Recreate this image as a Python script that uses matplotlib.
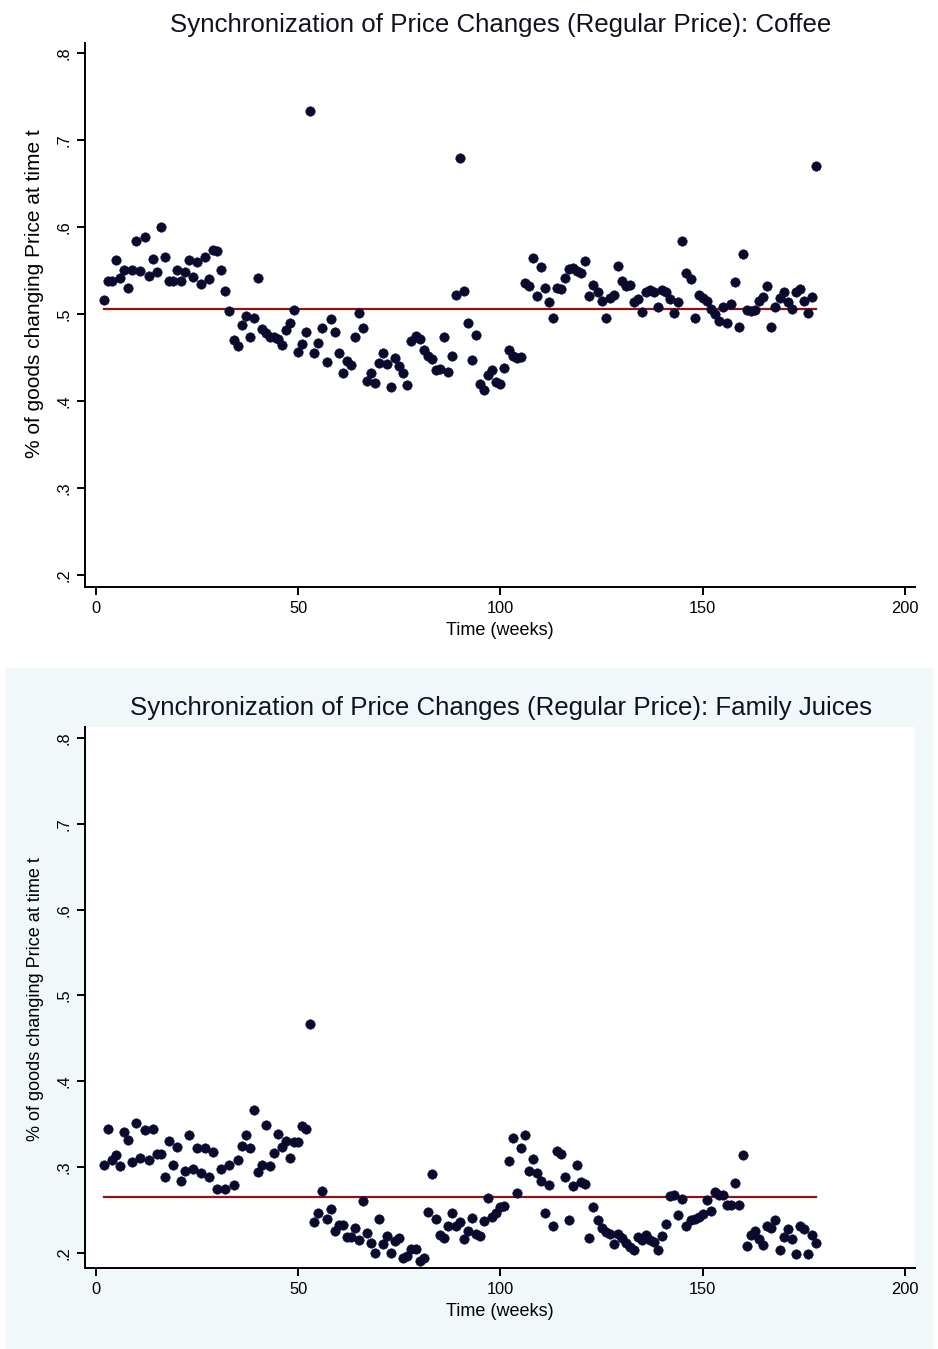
import numpy as np
import matplotlib
matplotlib.use("Agg")
import matplotlib.pyplot as plt
from matplotlib.patches import Rectangle

plt.rcParams['font.family'] = ['Liberation Sans', 'DejaVu Sans']

# ---------------- data ----------------
weeks = list(range(2, 179))

coffee = [
    0.516, 0.538, 0.538, 0.562, 0.542, 0.551, 0.530, 0.551, 0.584, 0.550,   # 2-11
    0.589, 0.544, 0.563, 0.548, 0.600, 0.566, 0.538, 0.538, 0.551, 0.538,   # 12-21
    0.549, 0.562, 0.543, 0.560, 0.535, 0.566, 0.540, 0.574, 0.573, 0.551,   # 22-31
    0.527, 0.504, 0.470, 0.463, 0.488, 0.498, 0.474, 0.495, 0.541, 0.483,   # 32-41
    0.478, 0.474, 0.474, 0.471, 0.465, 0.482, 0.490, 0.505, 0.457, 0.466,   # 42-51
    0.479, 0.734, 0.455, 0.467, 0.484, 0.445, 0.494, 0.479, 0.455, 0.432,   # 52-61
    0.446, 0.442, 0.474, 0.501, 0.484, 0.423, 0.432, 0.421, 0.444, 0.455,   # 62-71
    0.443, 0.416, 0.450, 0.440, 0.432, 0.419, 0.469, 0.475, 0.471, 0.459,   # 72-81
    0.452, 0.448, 0.436, 0.437, 0.474, 0.434, 0.452, 0.522, 0.679, 0.527,   # 82-91
    0.490, 0.447, 0.476, 0.420, 0.413, 0.430, 0.436, 0.422, 0.420, 0.438,   # 92-101
    0.459, 0.452, 0.450, 0.451, 0.536, 0.532, 0.564, 0.521, 0.554, 0.530,   # 102-111
    0.514, 0.495, 0.530, 0.529, 0.542, 0.552, 0.553, 0.550, 0.547, 0.561,   # 112-121
    0.521, 0.533, 0.526, 0.515, 0.496, 0.518, 0.522, 0.555, 0.538, 0.532,   # 122-131
    0.533, 0.514, 0.517, 0.503, 0.526, 0.528, 0.526, 0.508, 0.528, 0.525,   # 132-141
    0.517, 0.501, 0.514, 0.584, 0.547, 0.540, 0.495, 0.522, 0.518, 0.515,   # 142-151
    0.506, 0.500, 0.492, 0.508, 0.490, 0.512, 0.537, 0.485, 0.569, 0.505,   # 152-161
    0.504, 0.505, 0.515, 0.520, 0.532, 0.485, 0.508, 0.519, 0.525, 0.514,   # 162-171
    0.506, 0.525, 0.529, 0.515, 0.501, 0.520, 0.670,                        # 172-178
]

juices = [
    0.303, 0.345, 0.308, 0.314, 0.301, 0.341, 0.332, 0.306, 0.352, 0.311,   # 2-11
    0.343, 0.308, 0.345, 0.315, 0.315, 0.289, 0.330, 0.303, 0.323, 0.284,   # 12-21
    0.296, 0.338, 0.298, 0.322, 0.293, 0.322, 0.289, 0.318, 0.275, 0.298,   # 22-31
    0.275, 0.302, 0.279, 0.308, 0.325, 0.338, 0.322, 0.367, 0.294, 0.303,   # 32-41
    0.349, 0.301, 0.317, 0.339, 0.323, 0.330, 0.311, 0.329, 0.329, 0.348,   # 42-51
    0.345, 0.467, 0.236, 0.247, 0.272, 0.240, 0.251, 0.226, 0.233, 0.233,   # 52-61
    0.219, 0.219, 0.229, 0.215, 0.261, 0.223, 0.212, 0.200, 0.240, 0.210,   # 62-71
    0.220, 0.200, 0.214, 0.218, 0.194, 0.196, 0.205, 0.205, 0.191, 0.194,   # 72-81
    0.248, 0.292, 0.240, 0.221, 0.218, 0.231, 0.246, 0.231, 0.236, 0.216,   # 82-91
    0.226, 0.241, 0.222, 0.220, 0.237, 0.264, 0.242, 0.247, 0.253, 0.255,   # 92-101
    0.307, 0.334, 0.270, 0.322, 0.338, 0.296, 0.310, 0.293, 0.284, 0.247,   # 102-111
    0.279, 0.231, 0.319, 0.315, 0.289, 0.238, 0.278, 0.302, 0.283, 0.280,   # 112-121
    0.218, 0.253, 0.239, 0.229, 0.224, 0.222, 0.211, 0.222, 0.217, 0.212,   # 122-131
    0.207, 0.204, 0.219, 0.215, 0.221, 0.215, 0.213, 0.204, 0.220, 0.234,   # 132-141
    0.266, 0.268, 0.244, 0.263, 0.232, 0.238, 0.240, 0.242, 0.245, 0.262,   # 142-151
    0.249, 0.271, 0.267, 0.268, 0.256, 0.256, 0.282, 0.256, 0.314, 0.208,   # 152-161
    0.221, 0.226, 0.216, 0.209, 0.231, 0.229, 0.238, 0.203, 0.219, 0.228,   # 162-171
    0.216, 0.199, 0.232, 0.228, 0.199, 0.221, 0.212,                        # 172-178
]

coffee_mean = 0.506
juices_mean = 0.265

titles = ["Synchronization of Price Changes (Regular Price): Coffee",
          "Synchronization of Price Changes (Regular Price): Family Juices"]
xlabel = "Time (weeks)"
ylabel = "% of goods changing Price at time t"
xticks = [0, 50, 100, 150, 200]
yticks = [0.2, 0.3, 0.4, 0.5, 0.6, 0.7, 0.8]
yticklabels = [".2", ".3", ".4", ".5", ".6", ".7", ".8"]

# ---------------- figure ----------------
W, H = 938, 1349
fig = plt.figure(figsize=(W / 100, H / 100), dpi=100)
fig.patch.set_facecolor('white')

# light bluish background behind lower graph
bg = Rectangle((5 / W, 0), 928 / W, 1 - 668 / H,
               transform=fig.transFigure, facecolor='#f0f8fa',
               edgecolor='none', zorder=-10)
fig.add_artist(bg)

marker_color = '#0a0a2e'
line_color = '#8e1414'

panels = [
    dict(series=coffee, mean=coffee_mean, title=titles[0],
         rect=[85 / W, 1 - 587 / H, 830 / W, 544 / H], ylim=(0.1862, 0.8118),
         title_y=1 - 25 / H, ylab_y=0.54, ylab_fs=15),
    dict(series=juices, mean=juices_mean, title=titles[1],
         rect=[85 / W, 1 - 1268 / H, 830 / W, 541 / H], ylim=(0.1825, 0.8128),
         title_y=1 - 708 / H, ylab_y=0.497, ylab_fs=13),
]

for p in panels:
    ax = fig.add_axes(p['rect'])
    ax.set_zorder(1)
    ax.set_facecolor('white')
    ax.plot([weeks[0], weeks[-1]], [p['mean'], p['mean']], color=line_color,
            lw=1.6, zorder=2)
    ax.plot(weeks, p['series'], linestyle='none', marker='o', ms=6.8,
            mfc=marker_color, mec=marker_color, mew=0.4, zorder=3)
    ax.set_xlim(-2.72, 202.5)
    ax.set_ylim(*p['ylim'])
    ax.set_xticks(xticks)
    ax.set_xticklabels([str(t) for t in xticks], fontsize=11.8)
    ax.set_yticks(yticks)
    ax.set_yticklabels(yticklabels, fontsize=11.8, rotation=90, va='center')
    for s in ['top', 'right']:
        ax.spines[s].set_visible(False)
    for s in ['left', 'bottom']:
        ax.spines[s].set_linewidth(1.4)
        ax.spines[s].set_color('black')
    ax.tick_params(direction='out', length=5.8, width=1.4, pad=4, colors='black')
    ax.set_xlabel(xlabel, fontsize=13)
    ax.xaxis.set_label_coords(0.5, -0.065)
    ax.set_ylabel(ylabel, fontsize=p['ylab_fs'])
    ax.yaxis.set_label_coords(-0.049, p['ylab_y'])
    fig.text(501 / W, p['title_y'], p['title'], ha='center', va='center',
             fontsize=18.6, color='#111122')

fig.savefig('out.png', dpi=100, facecolor=fig.get_facecolor())
